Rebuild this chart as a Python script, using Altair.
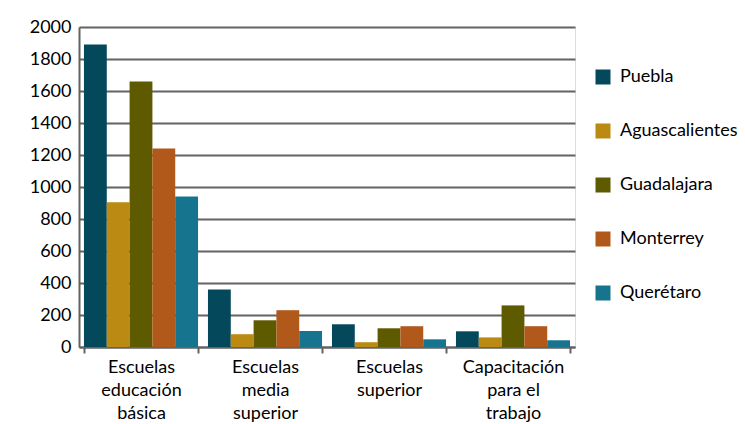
import altair as alt
import pandas as pd

categories = ["Escuelas\neducación\nbásica", "Escuelas\nmedia\nsuperior", "Escuelas\nsuperior", "Capacitación\npara el\ntrabajo"]
series = ["Puebla", "Aguascalientes", "Guadalajara", "Monterrey", "Querétaro"]
colors = ["#03485B", "#BA8A12", "#5E5A00", "#B1581B", "#16748F"]
values = {
    "Puebla":         [1890, 360, 142, 98],
    "Aguascalientes": [905, 80, 30, 60],
    "Guadalajara":    [1660, 167, 117, 260],
    "Monterrey":      [1240, 230, 130, 130],
    "Querétaro":      [940, 100, 48, 42],
}
y_ticks = list(range(0, 2001, 200))

rows = []
for s in series:
    for c, v in zip(categories, values[s]):
        rows.append({"cat": c, "serie": s, "valor": v})
df = pd.DataFrame(rows)

FONT = "Lato"
GRID = "#636363"

chart = alt.Chart(df).mark_bar().encode(
    x=alt.X("cat:N", sort=categories, title=None,
            scale=alt.Scale(paddingInner=0.08, paddingOuter=0.04),
            axis=alt.Axis(labelAngle=0,
                          labelExpr="isValid(datum.value) ? split(datum.value, '\\n') : ''",
                          labelFont=FONT, labelFontSize=18, labelColor="#000000",
                          labelLineHeight=23, labelPadding=5, tickSize=6,
                          tickBand="extent", tickColor=GRID, tickWidth=2,
                          domainColor=GRID, domainWidth=2, grid=False)),
    xOffset=alt.XOffset("serie:N", sort=series, scale=alt.Scale(domain=series)),
    y=alt.Y("valor:Q", title=None,
            scale=alt.Scale(domain=[0, 2000], nice=False),
            axis=alt.Axis(values=y_ticks, format="d", labelFont=FONT, labelFontSize=18,
                          labelColor="#000000", labelPadding=8, ticks=False,
                          domainColor=GRID, domainWidth=2,
                          grid=True, gridColor=GRID, gridWidth=2)),
    color=alt.Color("serie:N", sort=series,
                    scale=alt.Scale(domain=series, range=colors),
                    legend=alt.Legend(title=None, orient="none", legendX=515, legendY=41,
                                      symbolType="square", symbolSize=225,
                                      symbolStrokeWidth=0, symbolOpacity=1,
                                      labelFont=FONT, labelFontSize=18, labelColor="#000000",
                                      labelOffset=8, rowPadding=36)),
).properties(
    width=496, height=320,
    autosize=alt.AutoSizeParams(type="none"),
    padding={"left": 79, "top": 27, "right": 170, "bottom": 77},
).configure_view(stroke="transparent", strokeWidth=0).configure(background="#ffffff")

chart.save("out.html", embed_options={"renderer": "svg", "actions": False})
